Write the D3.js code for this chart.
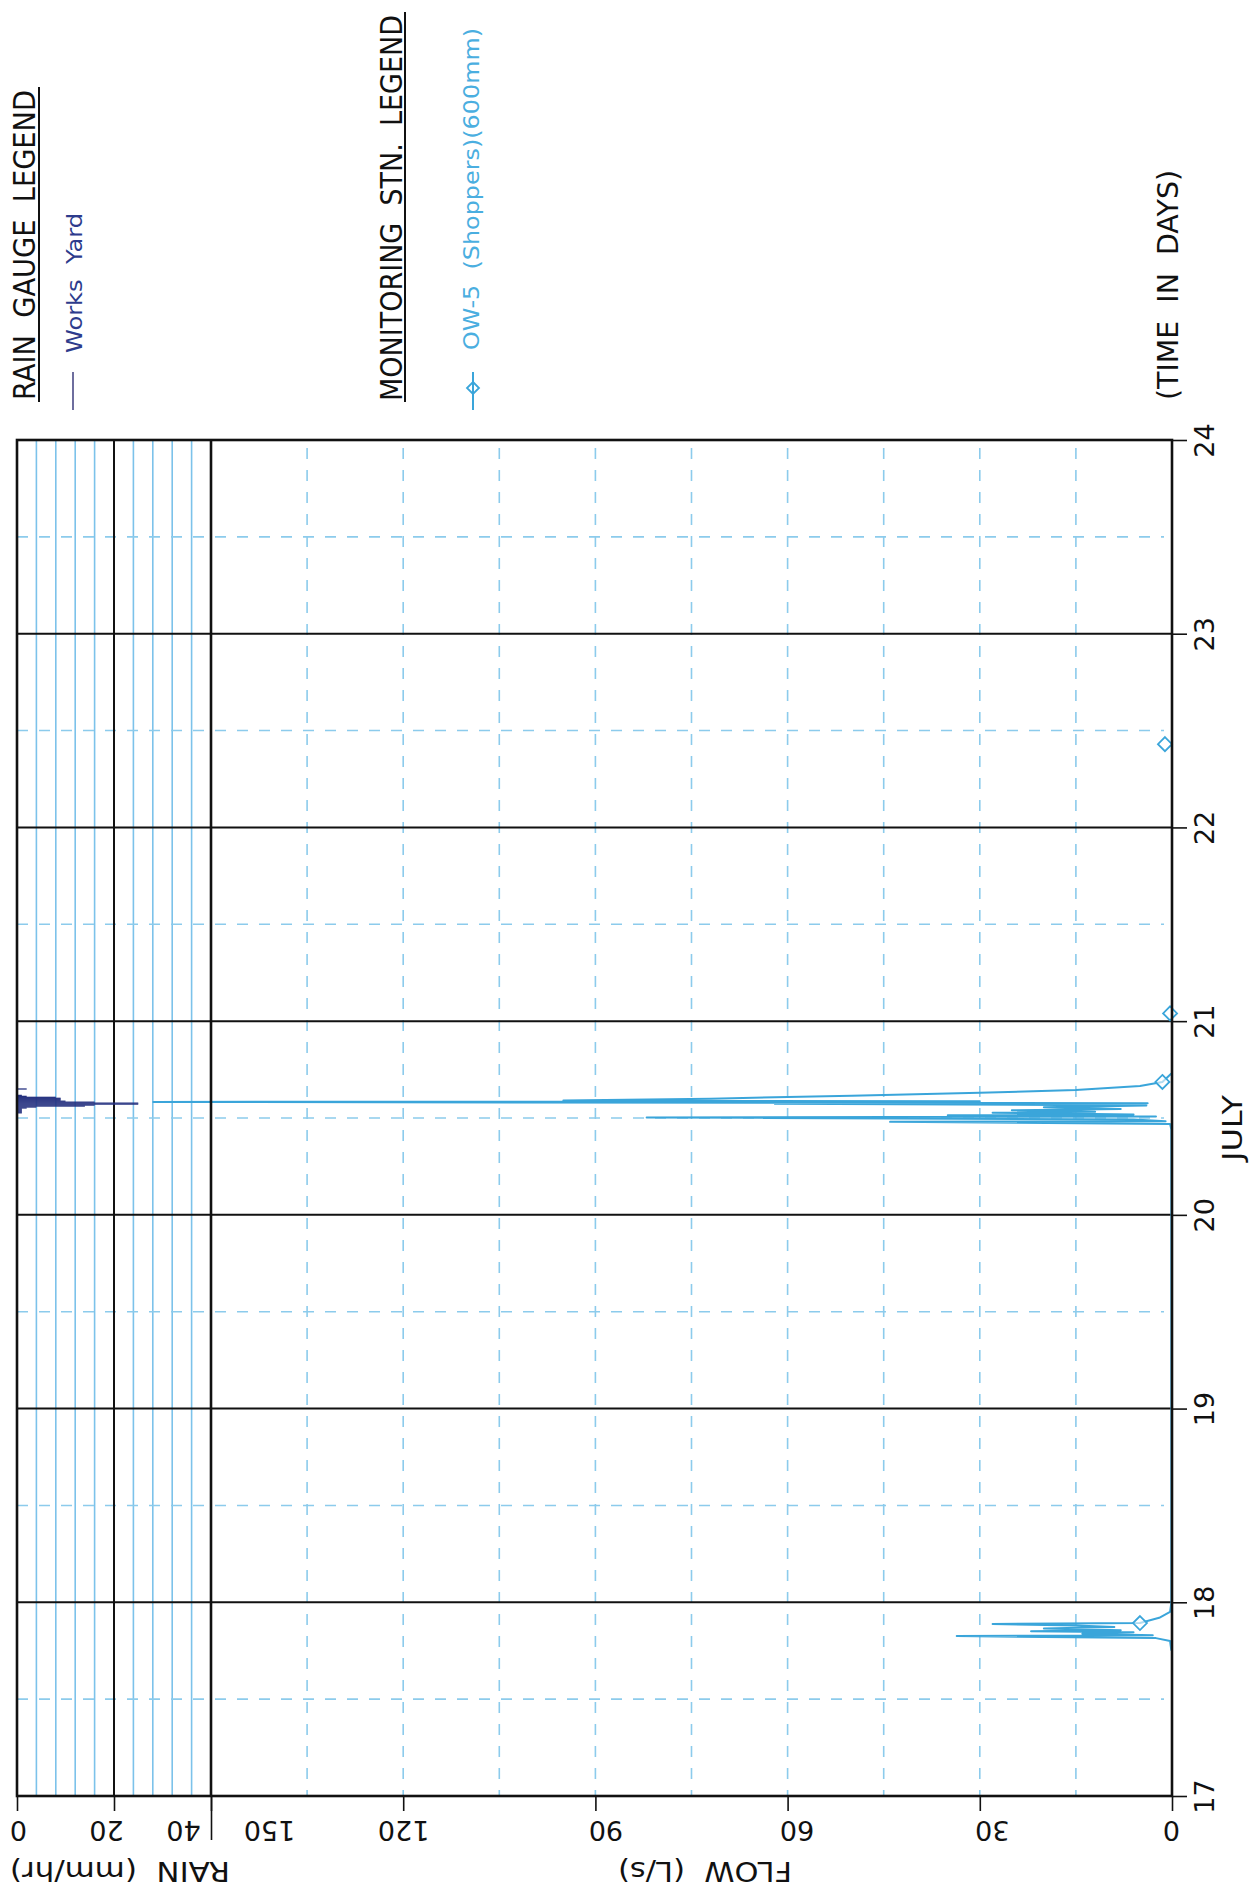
<!DOCTYPE html>
<html><head><meta charset="utf-8">
<script src="https://cdn.jsdelivr.net/npm/d3@7"></script>
<style>
body{margin:0;background:#fff}
svg{display:block}
text{font-family:"DejaVu Sans",sans-serif;white-space:pre}
</style>
</head><body>
<svg id="c" width="1258" height="1902"></svg>
<script>
// ---------- data ----------
const days = [17,18,19,20,21,22,23,24];
const halfDays = [17.5,18.5,19.5,20.5,21.5,22.5,23.5];
const flowTicks = [0,30,60,90,120,150];
const flowGrid = [15,30,45,60,75,90,105,120,135];
const rainTicks = [0,20,40];
const rainGrid = [4,8,12,16,24,28,32,36];

// OW-5 flow (L/s) vs time (July day)
const flowTime  = [17.750,17.800,17.815,17.826,17.830,17.838,17.845,17.850,17.856,17.865,17.872,17.880,17.888,17.893,17.920,17.950,18.000,
                   20.440,20.469,20.480,20.483,20.492,20.503,20.508,20.514,20.518,20.527,20.532,20.540,20.546,20.556,20.565,20.573,20.576,
                   20.583,20.586,20.590,20.600,20.615,20.630,20.645,20.665,20.686,20.730];
const flowValue = [0.1,0.3,2.5,33.6,3,14,6,22,8,20,9,15,28,5,2,0.3,0.1,
                   0.1,0.3,44,1,6,82,2.5,35,6,28,12,25,8,20,4,62,3.8,
                   159,30,95,72,50,30,15,5,1.5,0.1];
const markerTime  = [17.893,20.686,21.040,22.430];
const markerValue = [5,1.5,0.3,1.1];

// Works Yard rainfall (mm/hr), interval start times (day)
const rainStep  = 0.005;
const rainTime  = [20.525,20.530,20.535,20.540,20.545,20.550,20.555,20.560,20.565,20.570,20.575,20.580,20.585,20.590,20.595,20.600,20.605,20.610,20.615,20.648];
const rainValue = [1,1,1,1,1,2,4,14,16,25,25,16,10,9,9,9,8,2,1,2];

// ---------- layout ----------
const svg = d3.select("#c");
const y  = d3.scaleLinear().domain([17,24]).range([1796,440]);
const xf = d3.scaleLinear().domain([0,150]).range([1172,211]);
const xr = d3.scaleLinear().domain([0,40]).range([17,211]);

const gridBlue = "#7cc2ea", dashBlue = "#8ccbec", flowBlue = "#3aa5da", navy = "#24307f";

// rain panel vertical grid
svg.append("g").selectAll("line").data(rainGrid).join("line")
  .attr("x1",d=>xr(d)).attr("x2",d=>xr(d)).attr("y1",y(24)).attr("y2",y(17))
  .attr("stroke",gridBlue).attr("stroke-width",1.6);
// flow dashed vertical grid
svg.append("g").selectAll("line").data(flowGrid).join("line")
  .attr("x1",d=>xf(d)).attr("x2",d=>xf(d)).attr("y1",y(24)+8).attr("y2",y(17))
  .attr("stroke",dashBlue).attr("stroke-width",1.6).attr("stroke-dasharray","11,11");
// half-day dashed horizontals
svg.append("g").selectAll("line").data(halfDays).join("line")
  .attr("x1",xr(0)).attr("x2",xf(0)-8).attr("y1",d=>y(d)).attr("y2",d=>y(d))
  .attr("stroke",dashBlue).attr("stroke-width",1.6).attr("stroke-dasharray","11,11");

// rain 20 line and day lines
svg.append("line").attr("x1",xr(20)).attr("x2",xr(20)).attr("y1",y(24)).attr("y2",y(17))
  .attr("stroke","#111").attr("stroke-width",2);
svg.append("g").selectAll("line").data(days).join("line")
  .attr("x1",xr(0)).attr("x2",xf(0)).attr("y1",d=>y(d)).attr("y2",d=>y(d))
  .attr("stroke","#111").attr("stroke-width",2);

// rain bars
svg.append("g").selectAll("rect").data(rainTime.map((t,i)=>[t,rainValue[i]])).join("rect")
  .attr("x",xr(0)).attr("width",d=>xr(d[1])-xr(0))
  .attr("y",d=>y(d[0]+rainStep)).attr("height",d=>y(d[0])-y(d[0]+rainStep)+0.3)
  .attr("fill",navy);

// flow line
const flowData = flowTime.map((t,i)=>[t,flowValue[i]]);
svg.append("path").datum(flowData)
  .attr("d",d3.line().x(d=>xf(d[1])).y(d=>y(d[0])))
  .attr("fill","none").attr("stroke",flowBlue).attr("stroke-width",2).attr("stroke-linejoin","round");
// markers
const diamond = "M0,-7L7,0L0,7L-7,0Z";
svg.append("g").selectAll("path").data(markerTime.map((t,i)=>[t,markerValue[i]])).join("path")
  .attr("transform",d=>`translate(${xf(d[1])},${y(d[0])})`).attr("d",diamond)
  .attr("fill","#fff").attr("fill-opacity",0.6).attr("stroke",flowBlue).attr("stroke-width",1.8);

// frame and divider
svg.append("rect").attr("x",xr(0)).attr("y",y(24)).attr("width",xf(0)-xr(0)).attr("height",y(17)-y(24))
  .attr("fill","none").attr("stroke","#111").attr("stroke-width",2.6);
svg.append("line").attr("x1",xr(40)).attr("x2",xr(40)).attr("y1",y(24)).attr("y2",y(17))
  .attr("stroke","#111").attr("stroke-width",2.6);

// ---------- axes ----------
const gR = svg.append("g").attr("transform",`translate(${xf(0)},0)`)
  .call(d3.axisRight(y).tickValues(days).tickSize(15).tickFormat(d3.format("d")));
gR.select(".domain").remove();
gR.selectAll(".tick line").attr("stroke","#111").attr("stroke-width",1.6);
gR.selectAll(".tick text").attr("x",null).attr("dy","0.35em")
  .attr("transform","translate(33,0) rotate(-90)").attr("text-anchor","middle")
  .style("font-size","27px").attr("fill","#111");

const flowShift = {150:58,120:0,90:10,60:9,30:12,0:-1};
const gF = svg.append("g").attr("transform",`translate(0,${y(17)})`)
  .call(d3.axisBottom(xf).tickValues(flowTicks).tickSize(15).tickFormat(d3.format("d")));
gF.select(".domain").remove();
gF.selectAll(".tick line").attr("stroke","#111").attr("stroke-width",1.6);
gF.selectAll(".tick text").attr("y",null).attr("dy","0.35em")
  .attr("transform",d=>`translate(${flowShift[d]},34) rotate(180)`).attr("text-anchor","middle")
  .style("font-size","27px").attr("fill","#111");

const rainShift = {0:1,20:-8,40:-28};
const gRa = svg.append("g").attr("transform",`translate(0,${y(17)})`)
  .call(d3.axisBottom(xr).tickValues(rainTicks).tickSize(15).tickFormat(d3.format("d")));
gRa.select(".domain").remove();
gRa.selectAll(".tick line").attr("stroke","#111").attr("stroke-width",1.6)
  .attr("y2",d=>d===40?44:15);
gRa.selectAll(".tick text").attr("y",null).attr("dy","0.35em")
  .attr("transform",d=>`translate(${rainShift[d]},34) rotate(180)`).attr("text-anchor","middle")
  .style("font-size","27px").attr("fill","#111");

// axis titles
function rtext(x,yy,rot,str,size,len,fill,anchor){
  const t = svg.append("text").attr("transform",`translate(${x},${yy}) rotate(${rot})`)
    .attr("text-anchor",anchor||"middle").style("font-size",size+"px").attr("fill",fill||"#111").text(str);
  if(len){t.attr("textLength",len).attr("lengthAdjust","spacingAndGlyphs");}
  return t;
}
rtext(120,1871,180,"RAIN  (mm/hr)",27,220).attr("dy","0.35em");
rtext(705,1871,180,"FLOW  (L/s)",27,174).attr("dy","0.35em");
rtext(1233,1128,-90,"JULY",27,66).attr("dy","0.35em");
rtext(1168,285,-90,"(TIME  IN  DAYS)",28,230).attr("dy","0.35em");

// ---------- legends ----------
rtext(35,400,-90,"RAIN  GAUGE  LEGEND",30,310,"#111","start");
svg.append("line").attr("x1",39).attr("x2",39).attr("y1",87).attr("y2",402).attr("stroke","#111").attr("stroke-width",2);
svg.append("line").attr("x1",73).attr("x2",73).attr("y1",372).attr("y2",410).attr("stroke","#6e6e9e").attr("stroke-width",2);
rtext(82,353,-90,"Works  Yard",22,140,"#2d3b8c","start");

svg.append("text").attr("transform","translate(402,401) rotate(-90) scale(1,1.12)")
  .attr("text-anchor","start").style("font-size","27px").attr("fill","#111")
  .text("MONITORING  STN.  LEGEND");
svg.append("line").attr("x1",405).attr("x2",405).attr("y1",12).attr("y2",402).attr("stroke","#111").attr("stroke-width",2);
svg.append("line").attr("x1",473).attr("x2",473).attr("y1",372).attr("y2",410).attr("stroke",flowBlue).attr("stroke-width",2);
svg.append("path").attr("transform","translate(473,388)").attr("d","M0,-6L6,0L0,6L-6,0Z")
  .attr("fill","none").attr("stroke",flowBlue).attr("stroke-width",1.8);
rtext(479,350,-90,"OW-5  (Shoppers)(600mm)",22,322,"#4aaee0","start");
</script>
</body></html>
